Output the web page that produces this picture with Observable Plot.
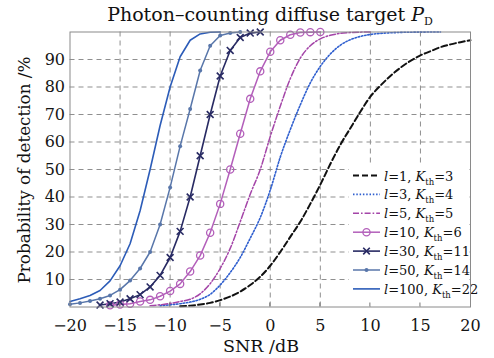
<!DOCTYPE html>
<html>
<head>
<meta charset="utf-8">
<script src="https://cdn.jsdelivr.net/npm/d3@7"></script>
<script src="https://cdn.jsdelivr.net/npm/@observablehq/plot@0.6"></script>
<style>
  body { margin: 0; background: #fff; }
  #chart { width: 494px; height: 358px; }
</style>
</head>
<body>
<div id="chart"></div>
<script>
// ---- data ----
const seriesKeys = ["l1", "l3", "l5", "l10", "l30", "l50", "l100"];
const lValues = [1, 3, 5, 10, 30, 50, 100];
const kthValues = [3, 4, 5, 6, 11, 14, 22];

const snr_l1 = [-9,-8,-7,-6,-5,-4,-3,-2,-1,0,1,2,3,4,5,6,7,8,9,10,11,12,13,14,15,16,17,18,19,20];
const pd_l1  = [0.3,0.5,0.9,1.5,2.5,3.8,5.6,8,11,15,20,25.5,31,37.5,44.5,52,59,65,71,76.5,80.5,84,87,89.5,91.5,93,94.5,95.5,96.3,97];

const snr_l3 = [-11,-10,-9,-8,-7,-6,-5,-4,-3,-2,-1,0,1,2,3,4,5,6,7,8,9,10,11,12,13,14,15,16,17];
const pd_l3  = [0.5,0.8,1.2,1.8,2.8,4.6,8,12.5,18,25,32.5,42.5,54.5,64.5,73.5,81.5,87.5,92,95.2,97.2,98.4,99.1,99.5,99.7,99.85,99.92,99.96,99.98,100];

const snr_l5 = [-12,-11,-10,-9,-8,-7,-6,-5,-4,-3,-2,-1,0,1,2,3,4,5,6,7,8,9,10];
const pd_l5  = [0.5,0.8,1.3,2,2.8,4.8,8.5,14,21.3,31,41,50,62,73,83,90.5,95,97.5,98.8,99.5,99.8,99.95,100];

const snr_l10 = [-16,-15,-14,-13,-12,-11,-10,-9,-8,-7,-6,-5,-4,-3,-2,-1,0,1,2,3,4,5];
const pd_l10  = [0.6,0.9,1.2,2,2.6,3.9,5.8,8.4,12.9,18.7,27,37.5,50,63,75.7,85.7,92.8,97,99,99.8,99.95,100];

const snr_l30 = [-17,-16,-15,-14,-13,-12,-11,-10,-9,-8,-7,-6,-5,-4,-3,-2,-1];
const pd_l30  = [0.7,1.2,1.8,3,4.5,7.3,11.5,18,27.5,40,55,70,84,93.3,98,99.6,100];

const snr_l50 = [-20,-19,-18,-17,-16,-15,-14,-13,-12,-11,-10,-9,-8,-7,-6,-5,-4,-3];
const pd_l50  = [1,1.5,2.2,3,4.2,6.3,9.6,14,20,30,43.5,58.5,72,86,95,98.7,99.6,100];

const snr_l100 = [-20,-19,-18,-17,-16,-15,-14,-13,-12,-11,-10,-9,-8,-7,-6,-5];
const pd_l100  = [2,3,4.2,6,9.5,15,23,35,50,66,80,91,97,99.3,99.9,100];

const xTicks = [-20,-15,-10,-5,0,5,10,15,20];
const yTicks = [10,20,30,40,50,60,70,80,90];

const titleText = "Photon–counting diffuse target ";
const xLabel = "SNR /dB";
const yLabel = "Probability of detection /%";

// ---- styles ----
const colors = {l1:"#111111", l3:"#2f5fcf", l5:"#a445a8", l10:"#b35fba", l30:"#282a63", l50:"#5876aa", l100:"#2c5cb8"};
const dashes = {l1:"6,3", l3:"1.5,1.8", l5:"6,2,1.6,2", l10:null, l30:null, l50:null, l100:null};
const widths = {l1:2, l3:1.6, l5:1.5, l10:1.5, l30:1.6, l50:1.5, l100:1.6};
const symbols = {l10:"circle", l30:"times", l50:"dot"};

const snrs = [snr_l1, snr_l3, snr_l5, snr_l10, snr_l30, snr_l50, snr_l100];
const pds  = [pd_l1, pd_l3, pd_l5, pd_l10, pd_l30, pd_l50, pd_l100];
const rows = [];
seriesKeys.forEach((k, s) => snrs[s].forEach((x, i) => rows.push({key: k, snr: x, pd: pds[s][i]})));
const of = k => rows.filter(d => d.key === k);

const fmt = d => d < 0 ? "\u2212" + Math.abs(d) : String(d);

const lineMarks = seriesKeys.map(k => Plot.line(of(k), {
  x: "snr", y: "pd", stroke: colors[k], strokeWidth: widths[k],
  strokeDasharray: dashes[k] || undefined,
  curve: (k === "l1" || k === "l3" || k === "l5") ? "monotone-x" : "linear"
}));

const dotMarks = [
  Plot.dot(of("l10"), {x: "snr", y: "pd", r: 3.6, stroke: colors.l10, strokeWidth: 1.3, fill: "none"}),
  Plot.dot(of("l30"), {x: "snr", y: "pd", symbol: "times", r: 3.2, stroke: colors.l30, strokeWidth: 1.6}),
  Plot.dot(of("l50"), {x: "snr", y: "pd", r: 2, fill: colors.l50, stroke: "none"})
];

// legend + inner ticks (custom render mark)
function legendMark(index, scales, values, dims) {
  const g = d3.create("svg:g").attr("text-anchor", "start");
  const right = dims.width - dims.marginRight;
  const bottom = dims.height - dims.marginBottom;
  g.append("rect").attr("x", right - 121).attr("y", 163).attr("width", 120.5).attr("height", bottom - 163)
    .attr("fill", "white");
  seriesKeys.forEach((k, i) => {
    const yc = 175.5 + i * 18.9;
    const x0 = right - 117, x1 = right - 90;
    const ln = g.append("line").attr("x1", x0).attr("x2", x1).attr("y1", yc).attr("y2", yc)
      .attr("stroke", colors[k]).attr("stroke-width", widths[k]);
    if (dashes[k]) ln.attr("stroke-dasharray", dashes[k]);
    const xm = (x0 + x1) / 2;
    if (symbols[k] === "circle") g.append("circle").attr("cx", xm).attr("cy", yc).attr("r", 3.6)
      .attr("fill", "none").attr("stroke", colors[k]).attr("stroke-width", 1.3);
    if (symbols[k] === "times") g.append("path").attr("transform", `translate(${xm},${yc})`)
      .attr("d", d3.symbol(d3.symbolTimes, 30)()).attr("fill", "none").attr("stroke", colors[k]).attr("stroke-width", 1.6);
    if (symbols[k] === "dot") g.append("circle").attr("cx", xm).attr("cy", yc).attr("r", 2).attr("fill", colors[k]);
    const t = g.append("text").attr("x", right - 86).attr("y", yc + 5).attr("text-anchor", "start")
      .attr("font-family", "DejaVu Serif").attr("font-size", 13).attr("fill", "#111");
    t.append("tspan").attr("font-style", "italic").text("l");
    t.append("tspan").text("=" + lValues[i] + ", ");
    t.append("tspan").attr("font-style", "italic").text("K");
    t.append("tspan").attr("font-size", 8.5).attr("dy", 4).text("th");
    t.append("tspan").attr("dy", -4).text("=" + kthValues[i]);
  });
  // small inward ticks along the bottom edge
  xTicks.slice(1, -1).forEach(v => {
    g.append("line").attr("x1", scales.x(v)).attr("x2", scales.x(v)).attr("y1", bottom).attr("y2", bottom - 4)
      .attr("stroke", "#777").attr("stroke-width", 1);
  });
  return g.node();
}

const chart = Plot.plot({
  width: 494, height: 358,
  marginLeft: 69.5, marginRight: 24, marginTop: 31.5, marginBottom: 51.5,
  x: {domain: [-20, 20]},
  y: {domain: [0, 100]},
  style: {fontFamily: "DejaVu Serif", fontSize: "16px", color: "#151515", background: "white"},
  marks: [
    Plot.gridX(xTicks.slice(1, -1), {stroke: "#8f8f8f", strokeOpacity: 1, strokeDasharray: "5,4"}),
    Plot.gridY(yTicks, {stroke: "#8f8f8f", strokeOpacity: 1, strokeDasharray: "5,4"}),
    ...lineMarks,
    ...dotMarks,
    legendMark,
    Plot.frame({stroke: "#8a8a8a", strokeWidth: 1}),
    Plot.axisX(xTicks, {tickSize: 0, tickPadding: 13, tickFormat: fmt, label: null}),
    Plot.axisY(yTicks, {tickSize: 0, tickPadding: 5, label: null})
  ]
});

const svg = d3.select(chart);
// title
const tt = svg.append("text").attr("x", 270).attr("y", 21).attr("text-anchor", "middle")
  .attr("font-family", "DejaVu Serif").attr("font-size", 19).attr("fill", "#111");
tt.append("tspan").text(titleText);
tt.append("tspan").attr("font-style", "italic").text("P");
tt.append("tspan").attr("font-size", 11).attr("dy", 4).text("D");
// axis labels
svg.append("text").attr("x", 261).attr("y", 352).attr("text-anchor", "middle")
  .attr("font-family", "DejaVu Serif").attr("font-size", 17.5).attr("fill", "#111").text(xLabel);
svg.append("text").attr("transform", "translate(30,170) rotate(-90)").attr("text-anchor", "middle")
  .attr("font-family", "DejaVu Serif").attr("font-size", 16.8).attr("fill", "#111").text(yLabel);

document.getElementById("chart").appendChild(chart);
</script>
</body>
</html>
